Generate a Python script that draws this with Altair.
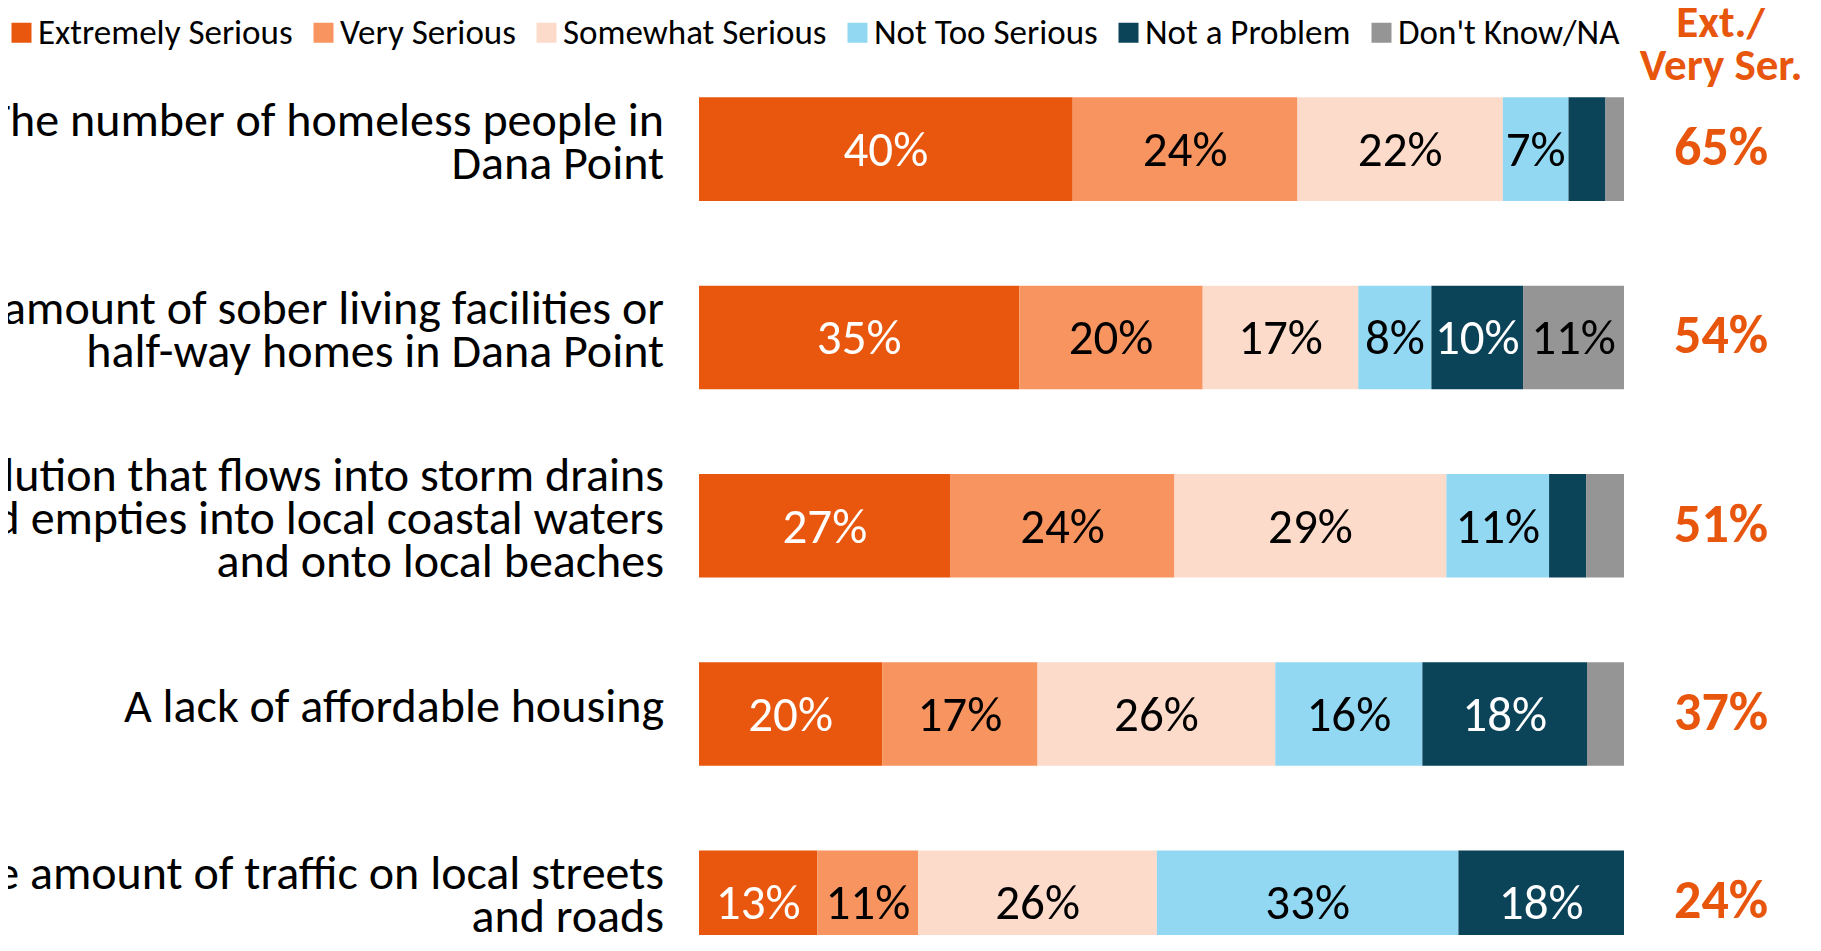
import altair as alt
import pandas as pd

FONT = "Carlito, 'Liberation Sans Narrow', 'Open Sans', sans-serif"

items = [
    "The number of homeless people in|Dana Point",
    "The amount of sober living facilities or|half-way homes in Dana Point",
    "Pollution that flows into storm drains|and empties into local coastal waters|and onto local beaches",
    "A lack of affordable housing",
    "The amount of traffic on local streets|and roads",
]
responses = ["Extremely Serious", "Very Serious", "Somewhat Serious",
             "Not Too Serious", "Not a Problem", "Don't Know/NA"]
colors = ["#E9560D", "#F7945F", "#FCDBCB", "#92D8F2", "#0B4459", "#959595"]

extremely = [40.4, 34.6, 27.2, 19.8, 12.8]
very = [24.3, 19.8, 24.2, 16.8, 10.9]
somewhat = [22.2, 16.8, 29.4, 25.7, 25.8]
not_too = [7.1, 7.9, 11.1, 15.9, 32.6]
not_problem = [4.0, 9.9, 4.0, 17.8, 17.9]
dont_know = [2.0, 10.9, 4.1, 4.0, 0.0]
ext_very = [65, 54, 51, 37, 24]
header = "Ext./|Very Ser."

series = [extremely, very, somewhat, not_too, not_problem, dont_know]
rows = []
for oi, (resp, vals) in enumerate(zip(responses, series)):
    for item, v in zip(items, vals):
        rows.append({"item": item, "response": resp, "order": oi, "value": v})
df = pd.DataFrame(rows)
ev_df = pd.DataFrame({"item": items, "ev": ext_very})
lab_df = pd.DataFrame({"item": items})
hd_df = pd.DataFrame({"h": [header]})

yscale = alt.Scale(domain=items, range=[0, 941.5], paddingInner=0.45, paddingOuter=0.225)
xscale = alt.Scale(domain=[0, 1])
Y = alt.Y("item:N", sort=items, scale=yscale, axis=None, title=None)

base = (alt.Chart(df)
        .transform_joinaggregate(total="sum(value)", groupby=["item"])
        .transform_window(cum="sum(value)", sort=[alt.SortField("order")],
                          groupby=["item"], frame=[None, 0])
        .transform_calculate(start="(datum.cum - datum.value) / datum.total",
                             end="datum.cum / datum.total",
                             mid="(datum.cum - datum.value / 2) / datum.total"))

bars = base.mark_bar().encode(
    x=alt.X("start:Q", scale=xscale, axis=None),
    x2="end:Q",
    y=Y,
    color=alt.Color("response:N", scale=alt.Scale(domain=responses, range=colors),
                    legend=alt.Legend(title=None, orient="none", direction="horizontal",
                                      columns=6, legendX=-695, legendY=-40,
                                      symbolType="square", symbolSize=400,
                                      symbolStrokeWidth=0, labelFont=FONT,
                                      labelFontSize=35, labelColor="#000000",
                                      labelOffset={"expr": "-1"}, columnPadding=13,
                                      labelLimit=1000, padding=0)),
)

seg_labels = base.transform_filter("datum.value >= 5").transform_calculate(
    lab="format(datum.value, '.0f') + '%'"
).mark_text(font=FONT, fontSize=49, baseline="middle", align="center", dy=2).encode(
    x=alt.X("mid:Q", scale=xscale, axis=None),
    y=Y,
    text="lab:N",
    color=alt.condition("datum.response == 'Extremely Serious' || datum.response == 'Not a Problem'",
                        alt.value("#FFFFFF"), alt.value("#000000")),
)

# yOffset puts the anchor at the band top, so add half the band (~51.8 px)
cat_labels = alt.Chart(lab_df).transform_calculate(
    off="51.8 - (length(split(datum.item, '|')) - 1) * 21.5 - 6"
).mark_text(
    font=FONT, fontSize=48, baseline="middle", align="right", lineBreak="|",
    lineHeight=43, color="#000000", dx=-35
).encode(
    x=alt.X(datum=0, type="quantitative", scale=xscale),
    y=Y,
    yOffset=alt.YOffset("off:Q", scale=None),
    text="item:N",
)

ev = alt.Chart(ev_df).transform_calculate(lab="datum.ev + '%'").mark_text(
    font=FONT, fontSize=54, fontWeight="bold", color="#E8560E", baseline="middle", align="center"
).encode(
    x=alt.X(datum=1.105, type="quantitative", scale=xscale),
    y=Y,
    text="lab:N",
)

hd = alt.Chart(hd_df).mark_text(
    font=FONT, fontSize=45, fontWeight="bold", color="#E8560E", baseline="middle",
    align="center", lineBreak="|", lineHeight=43
).encode(
    x=alt.X(datum=1.105, type="quantitative", scale=xscale),
    y=alt.value(-32),
    text="h:N",
)

chart = alt.layer(bars, seg_labels, cat_labels, ev, hd).properties(
    width=925, height=880,
    padding={"left": 691, "top": 47, "right": 189, "bottom": 0},
    autosize=alt.AutoSizeParams(type="none"),
).configure(font=FONT).configure_view(stroke=None)

chart.save("out.html", embed_options={"renderer": "svg", "actions": False})
